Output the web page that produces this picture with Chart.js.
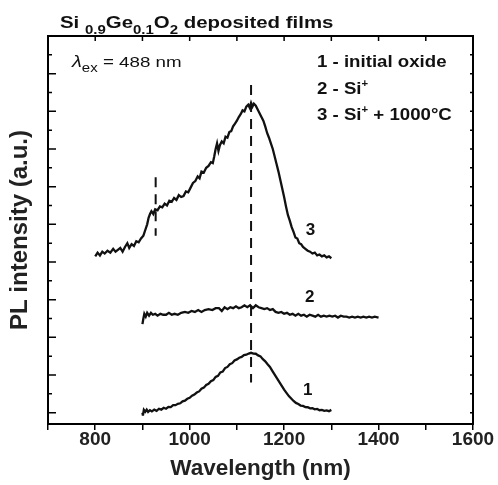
<!DOCTYPE html>
<html>
<head>
<meta charset="utf-8">
<script src="https://cdn.jsdelivr.net/npm/chart.js@4.4.0/dist/chart.umd.min.js"></script>
<style>
  body { margin: 0; background: #fff; }
  canvas { display: block; }
</style>
</head>
<body>
<canvas id="plChart" width="498" height="485"></canvas>
<script>
// curve 1 - initial oxide
var wl1 = [900, 901, 903, 906, 909, 912, 916, 920, 925, 930, 935, 940, 945, 950, 955, 960, 965, 970, 975, 980,
  985, 990, 995, 1000, 1005, 1010, 1015, 1020, 1025, 1030, 1035, 1040, 1045, 1050, 1055, 1060, 1065, 1070, 1075, 1080,
  1085, 1090, 1095, 1100, 1105, 1110, 1115, 1120, 1125, 1130, 1135, 1140, 1145, 1150, 1155, 1160, 1165, 1170, 1175, 1180,
  1185, 1190, 1195, 1200, 1205, 1210, 1215, 1220, 1225, 1230, 1235, 1240, 1245, 1250, 1255, 1260, 1265, 1270, 1275, 1280,
  1285, 1290, 1295, 1300];
var pl1 = [0.0, -0.15, 0.15, 0.05, 0.16, 0.04, 0.13, 0.07, 0.16, 0.1, 0.21, 0.16, 0.26, 0.21, 0.31, 0.3, 0.4, 0.4, 0.47, 0.5,
  0.6, 0.64, 0.74, 0.79, 0.9, 0.96, 1.07, 1.13, 1.27, 1.33, 1.47, 1.53, 1.67, 1.73, 1.9, 1.96, 2.14, 2.18, 2.37, 2.43,
  2.57, 2.63, 2.77, 2.83, 2.92, 2.96, 3.06, 3.08, 3.14, 3.18, 3.14, 3.13, 3.04, 2.99, 2.84, 2.73, 2.57, 2.43, 2.22, 2.02,
  1.82, 1.62, 1.42, 1.22, 1.05, 0.88, 0.75, 0.62, 0.52, 0.46, 0.38, 0.36, 0.3, 0.29, 0.23, 0.24, 0.18, 0.2, 0.13, 0.15,
  0.1, 0.12, 0.08, 0.15];

// curve 2 - Si+
var wl2 = [900, 902, 904, 907, 910, 914, 918, 922, 927, 932, 938, 944, 950, 956, 962, 968, 975, 982, 990, 997,
  1004, 1011, 1018, 1025, 1032, 1040, 1048, 1055, 1062, 1068, 1074, 1080, 1086, 1092, 1098, 1104, 1110, 1116, 1122, 1128,
  1134, 1140, 1146, 1152, 1158, 1164, 1170, 1176, 1182, 1188, 1194, 1200, 1206, 1212, 1218, 1224, 1230, 1236, 1242, 1248,
  1254, 1260, 1266, 1272, 1278, 1284, 1290, 1296, 1302, 1308, 1314, 1320, 1326, 1332, 1338, 1344, 1350, 1356, 1362, 1368,
  1374, 1380, 1386, 1392, 1400];
var pl2 = [4.7, 5.0, 5.25, 5.1, 5.3, 5.15, 5.3, 5.2, 5.25, 5.15, 5.25, 5.2, 5.2, 5.3, 5.2, 5.25, 5.2, 5.3, 5.35, 5.3,
  5.4, 5.35, 5.45, 5.35, 5.45, 5.5, 5.45, 5.55, 5.55, 5.4, 5.6, 5.5, 5.6, 5.55, 5.65, 5.55, 5.6, 5.7, 5.6, 5.7,
  5.55, 5.7, 5.6, 5.55, 5.5, 5.55, 5.45, 5.5, 5.35, 5.3, 5.35, 5.25, 5.3, 5.2, 5.25, 5.15, 5.25, 5.15, 5.2, 5.1,
  5.2, 5.15, 5.1, 5.2, 5.1, 5.15, 5.1, 5.15, 5.1, 5.15, 5.05, 5.15, 5.1, 5.1, 5.05, 5.1, 5.05, 5.1, 5.05, 5.1,
  5.05, 5.1, 5.05, 5.1, 5.05];

// curve 3 - Si+ + 1000 C
var wl3 = [800, 805, 810, 815, 820, 826, 832, 838, 843, 848, 853, 858, 863, 868, 872, 877, 882, 887, 892, 897,
  902, 906, 910, 913, 916, 919, 923, 927, 932, 937, 942, 947, 952, 957, 962, 967, 972, 977, 982, 987,
  992, 997, 1002, 1007, 1012, 1017, 1021, 1025, 1030, 1035, 1040, 1045, 1049, 1052, 1055, 1058, 1061, 1064, 1068, 1072,
  1076, 1080, 1084, 1088, 1092, 1096, 1100, 1104, 1108, 1112, 1116, 1120, 1124, 1127, 1130, 1133, 1136, 1140, 1144, 1148,
  1152, 1156, 1160, 1164, 1168, 1172, 1176, 1180, 1184, 1188, 1192, 1196, 1200, 1204, 1208, 1212, 1216, 1220, 1224, 1228,
  1232, 1236, 1240, 1245, 1250, 1255, 1260, 1265, 1270, 1275, 1280, 1285, 1290, 1295, 1300];
var pl3 = [8.3, 8.5, 8.35, 8.55, 8.45, 8.6, 8.5, 8.7, 8.55, 8.65, 8.75, 8.55, 8.8, 9.0, 8.75, 8.95, 8.85, 9.1, 9.05, 9.25,
  9.4, 9.7, 10.0, 10.35, 10.55, 10.7, 10.55, 10.8, 10.75, 10.95, 10.9, 11.1, 11.0, 11.25, 11.2, 11.4, 11.3, 11.55, 11.45, 11.5,
  11.75, 11.7, 11.95, 12.2, 12.3, 12.55, 12.45, 12.8, 12.75, 13.0, 13.1, 13.3, 13.25, 13.6, 14.0, 14.3, 13.9, 14.2, 14.4, 14.3,
  14.65, 14.6, 14.9, 14.95, 15.2, 15.35, 15.5, 15.7, 15.85, 16.05, 16.0, 16.25, 16.35, 16.2, 16.45, 16.25, 16.4, 16.3, 16.1, 15.9,
  15.7, 15.5, 15.2, 14.85, 14.6, 14.3, 14.0, 13.6, 13.2, 12.8, 12.35, 11.9, 11.45, 10.95, 10.5, 10.2, 9.85, 9.6, 9.3, 9.25,
  9.0, 8.95, 8.8, 8.7, 8.6, 8.55, 8.45, 8.5, 8.35, 8.4, 8.3, 8.35, 8.25, 8.3, 8.2];

// dashed markers
var peakLineX = [1130, 1130];
var peakLineY = [17.4, 1.6];
var shoulderLineX = [928, 928];
var shoulderLineY = [12.5, 9.4];

var xTicks = [700, 800, 900, 1000, 1100, 1200, 1300, 1400, 1500, 1600];

// curve numbers [text, wavelength, intensity]
var curveTags = [['1', 1250, 1.2], ['2', 1254, 6.1], ['3', 1256, 9.7]];

function toPoints(xs, ys) {
    return xs.map(function (x, i) { return { x: x, y: ys[i] }; });
}

var FONT = '"Liberation Sans", Arial, sans-serif';

// runs of text, each [text, size, weight, dy, italic]; sx widens the glyphs a bit
function drawRuns(ctx, x, y, sx, runs) {
    runs.forEach(function (r) {
        ctx.font = (r[4] ? 'italic ' : '') + r[2] + ' ' + r[1] + 'px ' + FONT;
        ctx.save();
        ctx.translate(x, y + r[3]);
        ctx.scale(sx, 1);
        ctx.fillText(r[0], 0, 0);
        ctx.restore();
        x += ctx.measureText(r[0]).width * sx;
    });
}

var framePlugin = {
    id: 'frame',
    afterDraw: function (chart) {
        var ctx = chart.ctx;
        var a = chart.chartArea;
        var xs = chart.scales.x;
        var ys = chart.scales.y;
        ctx.save();
        ctx.strokeStyle = '#000';
        ctx.lineWidth = 2;
        ctx.beginPath();
        ctx.moveTo(a.left - 1, a.top);
        ctx.lineTo(a.right, a.top);
        ctx.lineTo(a.right, a.bottom + 1);
        ctx.stroke();

        ctx.lineWidth = 1.5;
        ctx.beginPath();
        xTicks.forEach(function (v) {
            var px = xs.getPixelForValue(v);
            if (v > 700 && v < 1600) {
                ctx.moveTo(px, a.top);
                ctx.lineTo(px, a.top + 5);
            }
        });
        for (var v = 0; v < 20; v++) {
            var py = ys.getPixelForValue(v);
            ctx.moveTo(a.left, py);
            ctx.lineTo(a.left + (v % 2 === 0 ? 8 : 4), py);
            ctx.moveTo(a.right, py);
            ctx.lineTo(a.right - 3, py);
        }
        ctx.stroke();

        ctx.fillStyle = '#111';
        ctx.textAlign = 'center';
        ctx.textBaseline = 'middle';
        ctx.font = 'bold 17px ' + FONT;
        curveTags.forEach(function (t) {
            ctx.fillText(t[0], xs.getPixelForValue(t[1]), ys.getPixelForValue(t[2]));
        });
        ctx.textAlign = 'left';
        ctx.textBaseline = 'alphabetic';

        drawRuns(ctx, 60, 28, 1.2, [
            ['Si ', 17, 'bold', 0], ['0.9', 12.5, 'bold', 6], ['Ge', 17, 'bold', 0], ['0.1', 12.5, 'bold', 6],
            ['O', 17, 'bold', 0], ['2', 12.5, 'bold', 6], [' deposited films', 17, 'bold', 0]
        ]);
        drawRuns(ctx, 72, 67, 1.25, [
            ['\u03bb', 16, 'normal', 0, true], ['ex', 12, 'normal', 5], [' = 488 nm', 15, 'normal', 0]
        ]);
        drawRuns(ctx, 317, 67, 1.13, [['1 - initial oxide', 16.5, 'bold', 0]]);
        drawRuns(ctx, 317, 94, 1.13, [['2 - Si', 16.5, 'bold', 0], ['+', 10, 'bold', -7]]);
        drawRuns(ctx, 317, 120, 1.13, [['3 - Si', 16.5, 'bold', 0], ['+', 10, 'bold', -7], [' + 1000\u00b0C', 16.5, 'bold', 0]]);
        ctx.restore();
    }
};

var curveStyle = { borderColor: '#111', borderWidth: 2.3, pointRadius: 0, tension: 0, fill: false };
var dashStyle = { borderColor: '#111', borderWidth: 2, pointRadius: 0, borderDash: [10, 7], fill: false };

new Chart(document.getElementById('plChart'), {
    type: 'line',
    data: {
        datasets: [
            Object.assign({ data: toPoints(peakLineX, peakLineY) }, dashStyle),
            Object.assign({ data: toPoints(shoulderLineX, shoulderLineY) }, dashStyle),
            Object.assign({ label: '1 - initial oxide', data: toPoints(wl1, pl1) }, curveStyle),
            Object.assign({ label: '2 - Si+', data: toPoints(wl2, pl2) }, curveStyle),
            Object.assign({ label: '3 - Si+ + 1000\u00b0C', data: toPoints(wl3, pl3) }, curveStyle)
        ]
    },
    options: {
        responsive: false,
        animation: false,
        devicePixelRatio: 1,
        layout: { padding: { top: 36, right: 25, left: 0, bottom: 0 } },
        plugins: { legend: { display: false }, tooltip: { enabled: false } },
        scales: {
            x: {
                type: 'linear',
                min: 700,
                max: 1600,
                afterBuildTicks: function (s) {
                    s.ticks = xTicks.map(function (v) { return { value: v }; });
                },
                afterFit: function (s) { s.height = 61; },
                ticks: {
                    autoSkip: false,
                    maxRotation: 0,
                    padding: -2,
                    color: '#222',
                    font: { family: FONT, size: 19, weight: 'bold' },
                    callback: function (v) { return v % 200 === 0 ? String(v) : ''; }
                },
                grid: { drawOnChartArea: false, drawTicks: true, tickLength: 6, color: '#000', lineWidth: 1.5 },
                border: { color: '#000', width: 2 },
                title: {
                    display: true,
                    text: 'Wavelength (nm)',
                    color: '#222',
                    font: { family: FONT, size: 22.5, weight: 'bold' },
                    padding: { top: 0, bottom: 3 }
                }
            },
            y: {
                min: -0.6,
                max: 20,
                afterFit: function (s) { s.width = 48; },
                ticks: { display: false },
                grid: { display: false },
                border: { color: '#000', width: 2 },
                title: {
                    display: true,
                    text: 'PL intensity (a.u.)',
                    color: '#222',
                    font: { family: FONT, size: 24, weight: 'bold' },
                    padding: { top: 6, bottom: 0 }
                }
            }
        }
    },
    plugins: [framePlugin]
});
</script>
</body>
</html>
